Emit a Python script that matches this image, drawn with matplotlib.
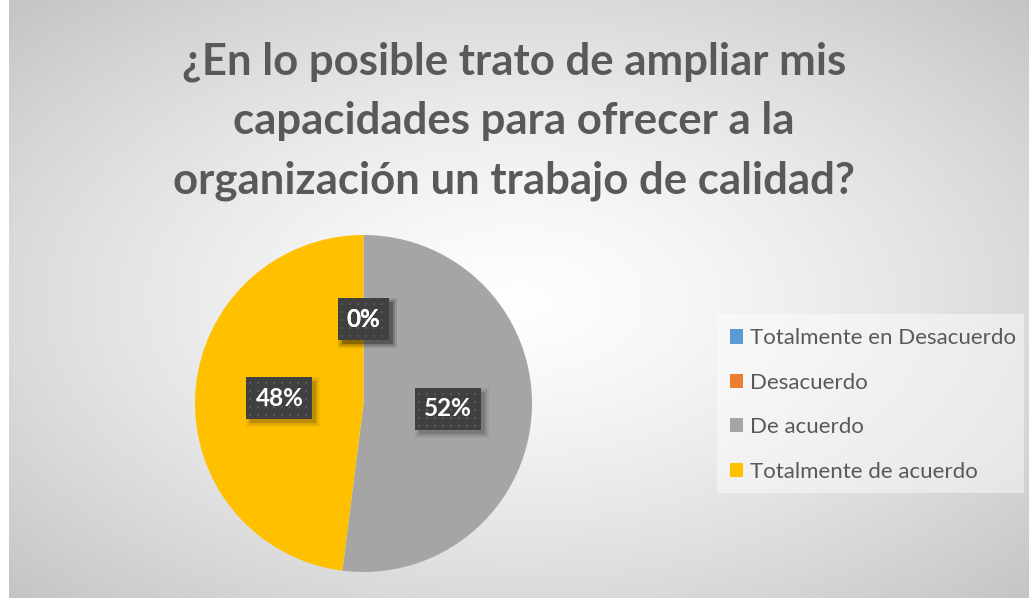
import numpy as np
import matplotlib
matplotlib.use("Agg")
from matplotlib import pyplot as plt
from matplotlib.patches import Rectangle
from matplotlib.transforms import IdentityTransform

categories = ["Totalmente en Desacuerdo", "Desacuerdo", "De acuerdo", "Totalmente de acuerdo"]
counts = [0, 0, 13, 12]
colors = ["#5b9bd5", "#ed7d31", "#a5a5a5", "#ffc000"]
title = "¿En lo posible trato de ampliar mis\ncapacidades para ofrecer a la\norganización un trabajo de calidad?"

W, H = 1029, 598
fig = plt.figure(figsize=(W / 100, H / 100), dpi=100)
fig.patch.set_facecolor("white")

# background: radial gradient like the excel chart area
bg = fig.add_axes([9 / W, 0, 1 - 9 / W, 1])
bg.set_axis_off()
yy, xx = np.mgrid[0:H, 9:W]
cx, cy = 520, 300
d = np.sqrt(((xx - cx) / (W - cx)) ** 2 + ((yy - cy) / (H - cy)) ** 2) / np.sqrt(2)
d = np.clip(d, 0, 1) ** 1.4
val = 0.995 - (0.995 - 0.77) * d
img = np.dstack([val, val, val])
bg.imshow(img, aspect="auto", extent=(0, 1, 0, 1), origin="upper")
bg.set_xlim(0, 1)
bg.set_ylim(0, 1)

fig.text(514 / W, 1 - 121 / H, title, ha="center", va="center", fontsize=31.5,
         fontweight="bold", color="#595959", family="Lato", linespacing=1.58)

# pie
cxp, cyp, r = 363.5, 403.5, 168.5
ax = fig.add_axes([(cxp - r) / W, (H - cyp - r) / H, 2 * r / W, 2 * r / H])
wedges, texts, autotexts = ax.pie(counts, colors=colors, startangle=90, counterclock=False,
                                  autopct="%1.0f%%", pctdistance=0.5,
                                  wedgeprops=dict(linewidth=0))
ax.set_xlim(-1, 1)
ax.set_ylim(-1, 1)
ax.set_aspect("equal")

for t in autotexts:
    t.set_color("white")
    t.set_fontsize(17.5)
    t.set_fontweight("bold")
    t.set_family("Lato")
    t.set_zorder(5)

# dark dotted label boxes with a soft shadow (drawn in pixel coords)
# the two 0% labels sit on top of each other, as in the excel chart
fig.canvas.draw()
renderer = fig.canvas.get_renderer()
ident = IdentityTransform()
for t in autotexts:
    bb = t.get_window_extent(renderer)
    bw, bh = bb.width + 18, 42
    x0 = (bb.x0 + bb.x1) / 2 - bw / 2
    y0 = (bb.y0 + bb.y1) / 2 - bh / 2
    for grow, a in [(0, 0.14), (2, 0.09), (4, 0.05)]:
        ax.add_patch(Rectangle((x0 + 4 - grow, y0 - 4 - grow), bw + 2 * grow, bh + 2 * grow,
                               transform=ident, fc="black", ec="none", alpha=a, zorder=3))
    ax.add_patch(Rectangle((x0, y0), bw, bh, transform=ident, fc="#404040", ec="none", zorder=4))
    gx = np.arange(x0 + 4, x0 + bw - 1, 8)
    gy = np.arange(y0 + 4, y0 + bh - 1, 8)
    px, py = np.meshgrid(gx, gy)
    ax.plot(px.ravel(), py.ravel(), "s", ms=1.9, mew=0, color="#585858", transform=ident, zorder=4.5)

ax.set_xlim(-1, 1)
ax.set_ylim(-1, 1)

# legend
fig.patches.append(Rectangle((717 / W, 1 - 493 / H), (1024 - 717) / W, (493 - 314) / H,
                             transform=fig.transFigure, fc="white", ec="none", alpha=0.45))
leg = fig.legend(wedges, categories, loc="center left", bbox_to_anchor=(721 / W, 1 - 405 / H),
                 frameon=False, prop=dict(family="Lato", size=16), labelcolor="#595959",
                 handlelength=0.6, handleheight=0.6, handletextpad=0.3, labelspacing=1.1,
                 borderaxespad=0)

fig.savefig("out.png", dpi=100)
